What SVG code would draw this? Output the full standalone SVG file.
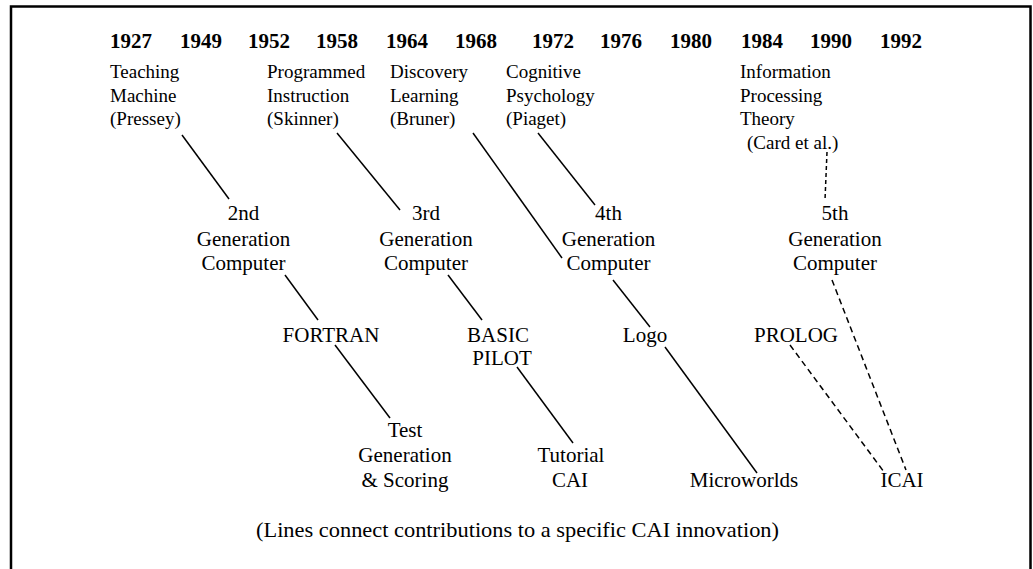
<svg xmlns="http://www.w3.org/2000/svg" width="1033" height="569" viewBox="0 0 1033 569">
<style>
text{font-family:"Liberation Serif","Times New Roman",serif;fill:#000}
.yr{font-size:21px;font-weight:bold}
.top{font-size:19px}
.nd{font-size:21px;text-anchor:middle}
.cap{font-size:21px;text-anchor:middle}
.ln{stroke:#000;stroke-width:1.5;fill:none}
.dl{stroke:#000;stroke-width:1.5;fill:none;stroke-dasharray:6 4}
.dc{stroke:#000;stroke-width:1.5;fill:none;stroke-dasharray:4 3}
</style>
<rect width="1033" height="569" fill="#fff"/>
<path d="M11,569 V6.5 H1030.5 V569" fill="none" stroke="#000" stroke-width="2.5"/>
<g id="years">
<text class="yr" x="110" y="48">1927</text>
<text class="yr" x="180" y="48">1949</text>
<text class="yr" x="248" y="48">1952</text>
<text class="yr" x="316" y="48">1958</text>
<text class="yr" x="386" y="48">1964</text>
<text class="yr" x="455" y="48">1968</text>
<text class="yr" x="532" y="48">1972</text>
<text class="yr" x="600" y="48">1976</text>
<text class="yr" x="670" y="48">1980</text>
<text class="yr" x="741" y="48">1984</text>
<text class="yr" x="810" y="48">1990</text>
<text class="yr" x="880" y="48">1992</text>
</g>
<g id="connectors">
<line class="ln" x1="182" y1="135" x2="229" y2="199"/>
<line class="ln" x1="337" y1="133" x2="400" y2="210"/>
<line class="ln" x1="473" y1="133" x2="562" y2="258"/>
<line class="ln" x1="538" y1="133" x2="595" y2="205"/>
<line class="ln" x1="285" y1="275" x2="318" y2="320"/>
<line class="ln" x1="335" y1="345" x2="390" y2="418"/>
<line class="ln" x1="448" y1="275" x2="482" y2="320"/>
<line class="ln" x1="517" y1="367" x2="573" y2="443"/>
<line class="ln" x1="613" y1="280" x2="650" y2="327"/>
<line class="ln" x1="665" y1="347" x2="757" y2="473"/>
<line class="dc" x1="827" y1="152" x2="825" y2="200"/>
<line class="dl" x1="832" y1="280" x2="906" y2="470"/>
<line class="dl" x1="790" y1="345" x2="884" y2="472"/>
</g>
<g id="pressey">
<text class="top" x="110" y="78">Teaching</text>
<text class="top" x="110" y="101.5">Machine</text>
<text class="top" x="110" y="125">(Pressey)</text>
</g>
<g id="skinner">
<text class="top" x="267" y="78">Programmed</text>
<text class="top" x="267" y="101.5">Instruction</text>
<text class="top" x="267" y="125">(Skinner)</text>
</g>
<g id="bruner">
<text class="top" x="390" y="78">Discovery</text>
<text class="top" x="390" y="101.5">Learning</text>
<text class="top" x="390" y="125">(Bruner)</text>
</g>
<g id="piaget">
<text class="top" x="506" y="78">Cognitive</text>
<text class="top" x="506" y="101.5">Psychology</text>
<text class="top" x="506" y="125">(Piaget)</text>
</g>
<g id="card">
<text class="top" x="740" y="78">Information</text>
<text class="top" x="740" y="101.5">Processing</text>
<text class="top" x="740" y="125">Theory</text>
<text class="top" x="747" y="148.5">(Card et al.)</text>
</g>
<g id="gen2">
<text class="nd" x="243.5" y="220">2nd</text>
<text class="nd" x="243.5" y="246">Generation</text>
<text class="nd" x="243.5" y="270">Computer</text>
</g>
<g id="gen3">
<text class="nd" x="426" y="220">3rd</text>
<text class="nd" x="426" y="246">Generation</text>
<text class="nd" x="426" y="270">Computer</text>
</g>
<g id="gen4">
<text class="nd" x="608.5" y="220">4th</text>
<text class="nd" x="608.5" y="246">Generation</text>
<text class="nd" x="608.5" y="270">Computer</text>
</g>
<g id="gen5">
<text class="nd" x="835" y="220">5th</text>
<text class="nd" x="835" y="246">Generation</text>
<text class="nd" x="835" y="270">Computer</text>
</g>
<g id="fortran"><text class="nd" x="331" y="342">FORTRAN</text></g>
<g id="basicpilot">
<text class="nd" x="498" y="342">BASIC</text>
<text class="nd" x="502" y="365">PILOT</text>
</g>
<g id="logo"><text class="nd" x="645" y="342">Logo</text></g>
<g id="prolog"><text class="nd" x="796" y="342">PROLOG</text></g>
<g id="testgen">
<text class="nd" x="405" y="437">Test</text>
<text class="nd" x="405" y="462">Generation</text>
<text class="nd" x="405" y="487">&amp; Scoring</text>
</g>
<g id="tutorial">
<text class="nd" x="571" y="462">Tutorial</text>
<text class="nd" x="570" y="487">CAI</text>
</g>
<g id="microworlds"><text class="nd" x="744" y="487">Microworlds</text></g>
<g id="icai"><text class="nd" x="902" y="487">ICAI</text></g>
<g id="caption"><text class="cap" x="517.5" y="537" textLength="523" lengthAdjust="spacingAndGlyphs">(Lines connect contributions to a specific CAI innovation)</text></g>
</svg>
